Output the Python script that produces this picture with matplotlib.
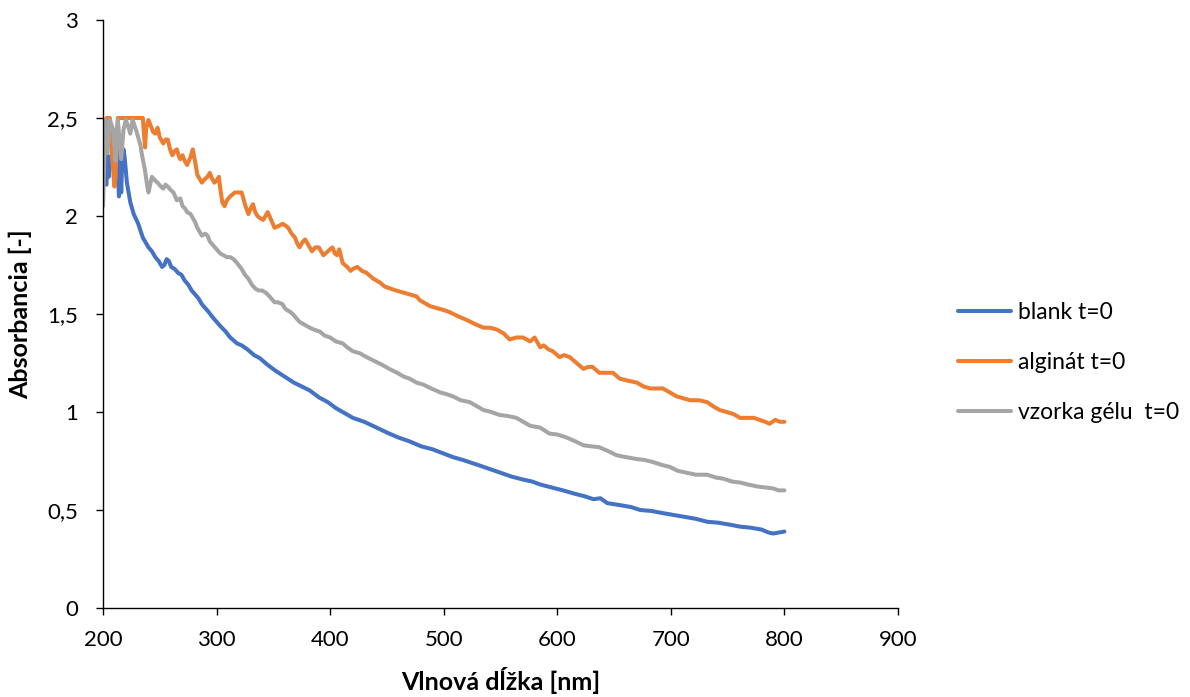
#!/usr/bin/env python3
# -*- coding: utf-8 -*-

import matplotlib
matplotlib.use('Agg')
import matplotlib.pyplot as plt

# blank t=0
blank_nm = [203, 204, 205, 206, 208, 210, 212, 213, 214, 215, 216, 217, 218, 219,
            221, 224, 227, 231, 235, 240, 243, 246, 249, 252, 254, 256, 258, 260,
            263, 266, 269, 272, 275, 278, 281, 284, 287, 290, 293, 297, 303, 308,
            312, 318, 322, 327, 333, 338, 345, 352, 360, 368, 375, 382, 390, 398,
            405, 411, 420, 430, 441, 450, 460, 470, 480, 490, 499, 508, 517, 530,
            540, 550, 560, 570, 578, 585, 595, 605, 614, 624, 632, 638, 644, 655,
            665, 673, 683, 692, 702, 712, 722, 732, 742, 752, 761, 770, 780, 786,
            790, 795, 800]
blank_abs = [2.16, 2.31, 2.20, 2.30, 2.27, 2.30, 2.34, 2.22, 2.10, 2.30, 2.12, 2.31,
             2.34, 2.30, 2.17, 2.07, 2.01, 1.96, 1.89, 1.84, 1.82, 1.79, 1.77, 1.74,
             1.75, 1.78, 1.77, 1.74, 1.73, 1.71, 1.70, 1.67, 1.65, 1.62, 1.60, 1.58,
             1.55, 1.53, 1.51, 1.48, 1.44, 1.41, 1.38, 1.35, 1.34, 1.32, 1.29, 1.275,
             1.24, 1.21, 1.18, 1.15, 1.13, 1.11, 1.075, 1.05, 1.02, 1.00, 0.97, 0.95,
             0.92, 0.895, 0.87, 0.85, 0.825, 0.81, 0.79, 0.77, 0.755, 0.73, 0.71,
             0.69, 0.67, 0.655, 0.645, 0.63, 0.615, 0.60, 0.585, 0.57, 0.555, 0.56,
             0.535, 0.525, 0.515, 0.50, 0.495, 0.485, 0.475, 0.465, 0.455, 0.44,
             0.435, 0.425, 0.415, 0.41, 0.40, 0.385, 0.38, 0.385, 0.39]

# alginát t=0
alg_nm = [203, 206, 208, 210, 211, 213, 216, 220, 225, 230, 235, 236, 237, 238, 240,
          242, 244, 246, 248, 250, 253, 255, 257, 259, 261, 263, 265, 267, 268, 270,
          272, 274, 277, 279, 281, 283, 285, 287, 290, 292, 294, 296, 298, 300, 302,
          303, 305, 307, 309, 312, 314, 316, 319, 322, 324, 326, 328, 330, 332, 334,
          336, 338, 341, 343, 345, 348, 351, 355, 358, 361, 363, 366, 369, 371, 373,
          376, 378, 381, 384, 387, 390, 392, 394, 398, 402, 404, 406, 408, 411, 415,
          418, 420, 424, 428, 432, 438, 444, 448, 453, 458, 464, 470, 476, 479, 482,
          488, 494, 500, 505, 512, 520, 527, 535, 541, 547, 553, 558, 564, 570, 576,
          580, 582, 585, 588, 592, 596, 602, 606, 611, 617, 623, 627, 631, 637, 643,
          649, 655, 662, 670, 676, 682, 688, 693, 699, 705, 711, 717, 725, 732, 737,
          743, 749, 755, 761, 767, 773, 778, 783, 787, 792, 796, 800]
alg_abs = [2.50, 2.50, 2.30, 2.15, 2.20, 2.50, 2.50, 2.50, 2.50, 2.50, 2.50, 2.42,
           2.35, 2.45, 2.49, 2.46, 2.43, 2.42, 2.45, 2.40, 2.37, 2.39, 2.39, 2.34,
           2.31, 2.33, 2.34, 2.30, 2.29, 2.31, 2.28, 2.26, 2.30, 2.34, 2.28, 2.21,
           2.19, 2.17, 2.19, 2.20, 2.22, 2.19, 2.17, 2.18, 2.20, 2.15, 2.07, 2.05,
           2.08, 2.10, 2.11, 2.12, 2.12, 2.12, 2.08, 2.04, 2.01, 2.04, 2.06, 2.02,
           2.00, 1.99, 1.98, 2.00, 2.02, 1.98, 1.94, 1.95, 1.96, 1.95, 1.94, 1.91,
           1.89, 1.86, 1.84, 1.87, 1.88, 1.85, 1.82, 1.84, 1.84, 1.82, 1.80, 1.82,
           1.84, 1.81, 1.80, 1.83, 1.76, 1.74, 1.72, 1.73, 1.74, 1.72, 1.71, 1.68,
           1.66, 1.64, 1.63, 1.62, 1.61, 1.60, 1.59, 1.57, 1.56, 1.54, 1.53, 1.52,
           1.51, 1.49, 1.47, 1.45, 1.43, 1.43, 1.42, 1.40, 1.37, 1.38, 1.38, 1.36,
           1.38, 1.36, 1.33, 1.34, 1.32, 1.31, 1.28, 1.29, 1.28, 1.25, 1.22, 1.23,
           1.23, 1.20, 1.20, 1.20, 1.17, 1.16, 1.15, 1.13, 1.12, 1.12, 1.12, 1.10,
           1.08, 1.07, 1.06, 1.06, 1.05, 1.03, 1.01, 1.00, 0.99, 0.97, 0.97, 0.97,
           0.96, 0.95, 0.94, 0.96, 0.95, 0.95]

# vzorka gélu t=0
gel_nm = [200, 202, 204, 206, 209, 211, 213, 216, 218, 220, 222, 224, 226, 229, 231,
          233, 234, 237, 239, 240, 243, 246, 248, 251, 253, 255, 257, 260, 262, 265,
          268, 270, 272, 274, 277, 279, 281, 283, 285, 287, 290, 292, 294, 297, 300,
          303, 306, 309, 312, 315, 318, 322, 325, 328, 331, 334, 337, 340, 343, 345,
          348, 351, 354, 358, 360, 362, 365, 367, 370, 373, 376, 379, 382, 386, 391,
          395, 400, 405, 411, 415, 420, 426, 432, 439, 446, 452, 459, 465, 470, 476,
          482, 489, 497, 503, 508, 515, 523, 529, 535, 542, 549, 556, 564, 570, 576,
          585, 593, 600, 608, 616, 623, 630, 637, 645, 652, 660, 670, 677, 684, 692,
          699, 706, 714, 722, 732, 740, 746, 754, 761, 768, 776, 783, 790, 795, 800]
gel_abs = [2.05, 2.49, 2.32, 2.49, 2.44, 2.28, 2.49, 2.29, 2.44, 2.49, 2.46, 2.42,
           2.49, 2.44, 2.40, 2.36, 2.32, 2.23, 2.15, 2.12, 2.20, 2.18, 2.17, 2.15,
           2.14, 2.16, 2.15, 2.13, 2.12, 2.08, 2.09, 2.05, 2.04, 2.02, 2.01, 1.99,
           1.97, 1.94, 1.92, 1.90, 1.91, 1.90, 1.87, 1.85, 1.83, 1.81, 1.80, 1.79,
           1.79, 1.78, 1.76, 1.73, 1.70, 1.68, 1.65, 1.63, 1.62, 1.62, 1.61, 1.60,
           1.58, 1.56, 1.56, 1.55, 1.53, 1.52, 1.51, 1.50, 1.48, 1.46, 1.45, 1.44,
           1.43, 1.42, 1.41, 1.39, 1.38, 1.36, 1.35, 1.33, 1.31, 1.30, 1.28, 1.26,
           1.24, 1.22, 1.20, 1.18, 1.17, 1.15, 1.14, 1.12, 1.10, 1.09, 1.08, 1.06,
           1.05, 1.03, 1.01, 1.00, 0.985, 0.98, 0.97, 0.95, 0.93, 0.92, 0.89, 0.885,
           0.87, 0.85, 0.83, 0.825, 0.82, 0.80, 0.78, 0.77, 0.76, 0.755, 0.745,
           0.73, 0.72, 0.70, 0.69, 0.68, 0.68, 0.665, 0.66, 0.645, 0.64, 0.63, 0.62,
           0.615, 0.61, 0.60, 0.60]

labels = ['blank t=0', 'alginát t=0', 'vzorka gélu  t=0']
colors = ['#4472C4', '#ED7D31', '#A5A5A5']

x_ticks = [200, 300, 400, 500, 600, 700, 800, 900]
y_ticks = [0, 0.5, 1, 1.5, 2, 2.5, 3]
y_tick_labels = ['0', '0,5', '1', '1,5', '2', '2,5', '3']


def main():
    plt.rcParams['font.family'] = ['Lato', 'DejaVu Sans']

    fig = plt.figure(figsize=(11.9, 6.97), dpi=100)
    ax = fig.add_axes([0.0866, 0.1277, 0.668, 0.8436])

    series = [(blank_nm, blank_abs), (alg_nm, alg_abs), (gel_nm, gel_abs)]
    for (xs, ys), lab, col in zip(series, labels, colors):
        ax.plot(xs, ys, color=col, lw=2.9, label=lab,
                solid_joinstyle='round', solid_capstyle='round')

    ax.set_xlim(200, 900)
    ax.set_ylim(0, 3)
    ax.set_xticks(x_ticks)
    ax.set_yticks(y_ticks)
    ax.set_yticklabels(y_tick_labels)

    for s in ['top', 'right']:
        ax.spines[s].set_visible(False)
    for s in ['left', 'bottom']:
        ax.spines[s].set_color('#000000')
        ax.spines[s].set_linewidth(1.0)

    ax.tick_params(axis='x', direction='out', length=5, width=1,
                   labelsize=16, pad=11)
    ax.tick_params(axis='y', direction='out', length=5, width=1,
                   labelsize=16, pad=13)

    ax.set_xlabel('Vlnová dĺžka [nm]', fontsize=18, fontweight='bold')
    ax.set_ylabel('Absorbancia [-]', fontsize=18, fontweight='bold')
    ax.xaxis.set_label_coords(0.5, -0.1)
    ax.yaxis.set_label_coords(-0.089, 0.5)

    fig.legend(loc='center left', bbox_to_anchor=(0.805, 0.48),
               frameon=False, fontsize=16.5, handlelength=2.3,
               handletextpad=0.3, labelspacing=1.25, borderpad=0,
               borderaxespad=0)

    fig.savefig('out.png', dpi=100)


if __name__ == '__main__':
    main()
